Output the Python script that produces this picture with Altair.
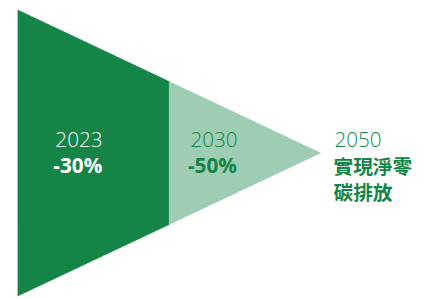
import altair as alt
import pandas as pd

# Stages along the funnel (segment boundaries)
stages = [0, 1, 2]
years = ["2023", "2030", "2050"]
targets = ["-30%", "-50%", "實現淨零"]
extra_line = ["", "", "碳排放"]

# Funnel segments: start/end stage and half-height at each end
seg_names = ["2023-2030", "2030-2050"]
seg_start = [0, 1]
seg_end = [1, 2]
half_start = [1.0, 0.5]
half_end = [0.5, 0.0]

DARK = "#158447"
LIGHT = "#9ECDB3"

rows = []
for n, s0, s1, h0, h1 in zip(seg_names, seg_start, seg_end, half_start, half_end):
    rows.append({"seg": n, "x": s0, "top": h0, "bot": -h0})
    rows.append({"seg": n, "x": s1, "top": h1, "bot": -h1})
area_df = pd.DataFrame(rows)

xs = alt.Scale(domain=[0, 2], range=[10, 317])
ys = alt.Scale(domain=[-1, 1], range=[290, 0])

area = alt.Chart(area_df).mark_area(strokeWidth=0.5).encode(
    x=alt.X("x:Q", scale=xs, axis=None),
    y=alt.Y("top:Q", scale=ys, axis=None, stack=None),
    y2="bot:Q",
    color=alt.Color("seg:N", scale=alt.Scale(domain=seg_names, range=[DARK, LIGHT]), legend=None),
    stroke=alt.Stroke("seg:N", scale=alt.Scale(domain=seg_names, range=[DARK, LIGHT]), legend=None),
)

layers = [area]
year_dx = [38, 21.5, 14]
target_dx = [36, 19, 13]
text_color = ["white", DARK, DARK]
for i, st in enumerate(stages):
    d = pd.DataFrame({"x": [st], "y": [0], "year": [years[i]], "t": [targets[i]], "e": [extra_line[i]]})
    base = alt.Chart(d)
    enc = dict(x=alt.X("x:Q", scale=xs), y=alt.Y("y:Q", scale=ys))
    layers.append(base.mark_text(align="left", baseline="alphabetic", dx=year_dx[i], dy=-6,
                                 fontSize=21, font="Open Sans", fontWeight=300,
                                 color=text_color[i]).encode(text="year:N", **enc))
    if i < 2:
        layers.append(base.mark_text(align="left", baseline="alphabetic", dx=target_dx[i], dy=20.5,
                                     fontSize=21, font="Open Sans", fontWeight="bold",
                                     color=text_color[i]).encode(text="t:N", **enc))
    else:
        layers.append(base.mark_text(align="left", baseline="alphabetic", dx=target_dx[i], dy=21.5,
                                     fontSize=20, font="Noto Sans CJK TC", fontWeight="bold",
                                     color=text_color[i]).encode(text="t:N", **enc))
        layers.append(base.mark_text(align="left", baseline="alphabetic", dx=target_dx[i], dy=47.5,
                                     fontSize=20, font="Noto Sans CJK TC", fontWeight="bold",
                                     color=text_color[i]).encode(text="e:N", **enc))

chart = alt.layer(*layers).properties(
    width=432, height=290, padding=0, autosize=alt.AutoSizeParams(type="none"),
    background="white",
).configure_view(stroke=None)

chart.save("out.html", embed_options={"renderer": "svg", "actions": False})
